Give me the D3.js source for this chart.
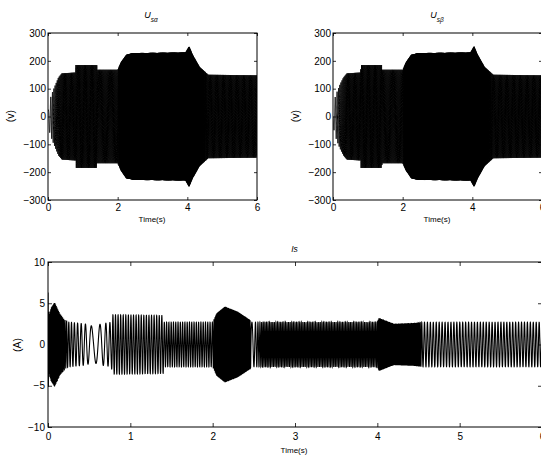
<!DOCTYPE html>
<html><head><meta charset="utf-8">
<script src="https://cdn.jsdelivr.net/npm/d3@7"></script>
<style>
body{margin:0;background:#fff;}
text{font-family:"Liberation Sans",Arial,sans-serif;fill:#000;}
</style></head>
<body>
<svg id="c" width="541" height="456"></svg>
<script>
// ---- data ----
const uTicksX = [0, 2, 4, 6];
const uTicksY = [-300, -200, -100, 0, 100, 200, 300];
const iTicksX = [0, 1, 2, 3, 4, 5, 6];
const iTicksY = [-10, -5, 0, 5, 10];

// stator voltage envelope knots: time (s), amplitude (V), carrier frequency (Hz)
const uTimes     = [0, 0.05, 0.12, 0.2, 0.3, 0.4, 0.79, 0.8, 1.4, 1.41, 2.0, 2.1, 2.25, 2.45, 3.95, 4.05, 4.15, 4.35, 4.6, 6.0];
const uAlphaAmp  = [20, 60, 85, 110, 140, 155, 158, 185, 185, 168, 168, 195, 222, 228, 230, 252, 222, 178, 150, 148];
const uBetaAmp   = [30, 65, 90, 115, 140, 155, 158, 185, 185, 168, 168, 195, 222, 228, 230, 252, 222, 178, 150, 148];
const uFreq      = [8, 14, 22, 30, 36, 40, 40, 40, 40, 38, 38, 90, 90, 90, 90, 90, 90, 70, 40, 40];

// stator current envelope knots
const iTimes = [0, 0.01, 0.04, 0.08, 0.14, 0.2, 0.25, 0.45, 0.55, 0.65, 0.77, 0.78, 1.4, 1.41, 2.0, 2.05, 2.15, 2.3, 2.45, 2.47, 2.6, 4.0, 4.02, 4.2, 4.45, 4.55, 6.0];
const iAmp   = [6.3, 3.5, 4.5, 5.1, 3.8, 3.0, 2.7, 2.5, 2.2, 2.5, 2.7, 3.6, 3.5, 2.7, 2.7, 3.8, 4.6, 4.0, 3.0, 2.7, 2.7, 2.7, 3.2, 2.5, 2.6, 2.7, 2.7];
const iFreq  = [120, 120, 120, 120, 110, 60, 32, 18, 8, 12, 25, 32, 32, 36, 36, 150, 150, 150, 120, 15, 52, 52, 160, 160, 160, 28, 28];

// ---- helpers ----
const svg = d3.select("#c");
function wave(times, amps, freqs, t1, dt, useSin) {
  const A = d3.scaleLinear().domain(times).range(amps).clamp(true);
  const F = d3.scaleLinear().domain(times).range(freqs).clamp(true);
  const pts = [];
  let ph = 0;
  for (let t = 0; t <= t1 + 1e-9; t += dt) {
    const a = A(t);
    pts.push([t, a * (useSin ? -Math.sin(ph) : Math.cos(ph))]);
    ph += 2 * Math.PI * F(t) * dt;
  }
  return pts;
}

let clipId = 0;
function panel(opt) {
  const {x0, x1, y0, y1, xd, yd, xt, yt, tick, data, xPad, yPad, sw} = opt;
  const x = d3.scaleLinear().domain(xd).range([x0, x1]);
  const y = d3.scaleLinear().domain(yd).range([y1, y0]);
  const g = svg.append("g");
  const id = "clip" + (clipId++);
  svg.append("clipPath").attr("id", id).append("rect")
    .attr("x", x0).attr("y", y0).attr("width", x1 - x0).attr("height", y1 - y0);
  g.append("path").datum(data)
    .attr("clip-path", `url(#${id})`)
    .attr("fill", "none").attr("stroke", "#000").attr("stroke-width", sw)
    .attr("d", d3.line().x(d => x(d[0])).y(d => y(d[1])));
  const fmt = d3.format("d");
  const ab = g.append("g").attr("transform", `translate(0,${y1})`)
    .call(d3.axisBottom(x).tickValues(xt).tickFormat(fmt).tickSizeInner(-tick).tickSizeOuter(0).tickPadding(xPad));
  const at = g.append("g").attr("transform", `translate(0,${y0})`)
    .call(d3.axisTop(x).tickValues(xt).tickFormat("").tickSizeInner(-tick).tickSizeOuter(0));
  const al = g.append("g").attr("transform", `translate(${x0},0)`)
    .call(d3.axisLeft(y).tickValues(yt).tickFormat(fmt).tickSizeInner(-tick).tickSizeOuter(0).tickPadding(yPad));
  const ar = g.append("g").attr("transform", `translate(${x1},0)`)
    .call(d3.axisRight(y).tickValues(yt).tickFormat("").tickSizeInner(-tick).tickSizeOuter(0));
  [ab, at, al, ar].forEach(a => {
    a.select(".domain").remove();
    a.selectAll("line").attr("stroke", "#000").attr("stroke-width", 0.8);
    a.selectAll("text").attr("font-size", 10).attr("font-family", '"Liberation Sans",Arial,sans-serif').attr("fill", "#000");
  });
  g.append("rect").attr("x", x0).attr("y", y0).attr("width", x1 - x0).attr("height", y1 - y0)
    .attr("fill", "none").attr("stroke", "#000").attr("stroke-width", 1);
  return {x, y, g};
}

const dt = 0.0003;
const ua = wave(uTimes, uAlphaAmp, uFreq, 6, dt, false);
const ub = wave(uTimes, uBetaAmp, uFreq, 6, dt, true);
const is = wave(iTimes, iAmp, iFreq, 6, dt, false);

panel({x0: 48, x1: 257, y0: 33, y1: 200, xd: [0, 6], yd: [-300, 300], xt: uTicksX, yt: uTicksY, tick: 3, data: ua, xPad: 4, yPad: 2, sw: 1});
panel({x0: 333, x1: 542, y0: 33, y1: 200, xd: [0, 6], yd: [-300, 300], xt: uTicksX, yt: uTicksY, tick: 3, data: ub, xPad: 4, yPad: 2, sw: 1});
panel({x0: 48, x1: 542, y0: 262, y1: 427, xd: [0, 6], yd: [-10, 10], xt: iTicksX, yt: iTicksY, tick: 4, data: is, xPad: 6, yPad: 3, sw: 1.1});

// titles
function uTitle(cx, sub) {
  const t = svg.append("text").attr("x", cx).attr("y", 18).attr("text-anchor", "middle")
    .attr("font-size", 9).attr("font-style", "italic");
  t.append("tspan").text("U");
  t.append("tspan").attr("font-size", 6.5).attr("dy", 4).text("s" + sub);
}
uTitle(151, "α");
uTitle(437, "β");
svg.append("text").attr("x", 294.5).attr("y", 252).attr("text-anchor", "middle")
  .attr("font-size", 8.5).attr("font-style", "italic").text("Is");

// axis labels
[[152, 222], [437, 222], [294, 453]].forEach(([cx, cy]) =>
  svg.append("text").attr("x", cx).attr("y", cy).attr("text-anchor", "middle").attr("font-size", 8).text("Time(s)"));
[[14, 116, "(v)"], [299, 116, "(v)"], [21, 345, "(A)"]].forEach(([cx, cy, s]) =>
  svg.append("text").attr("transform", `translate(${cx},${cy}) rotate(-90)`).attr("text-anchor", "middle")
    .attr("font-size", 10.5).text(s));
</script>
</body></html>
